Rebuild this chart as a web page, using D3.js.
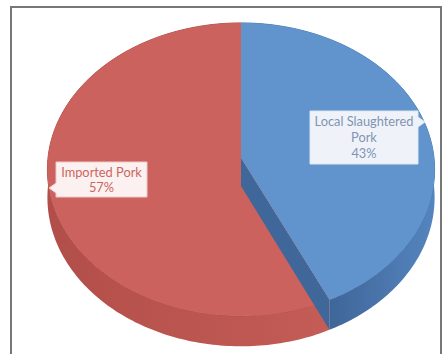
<!DOCTYPE html>
<html><head><meta charset="utf-8">
<script src="https://cdn.jsdelivr.net/npm/d3@7"></script>
<style>html,body{margin:0;padding:0;background:#fff;}svg{display:block;}</style>
</head><body>
<svg id="chart" width="442" height="354"></svg>
<script>
const categories = ["Local Slaughtered Pork", "Imported Pork"];
const values = [43, 57];
const labelLines = [["Local Slaughtered", "Pork", "43%"], ["Imported Pork", "57%"]];
const topColors = ["#6193CD", "#CC625D"];
const sideColorsA = ["#5585BF", "#B24E49"];
const sideColorsB = ["#3F6699", "#C45C57"];
const wallColor = "#40679A";

const svg = d3.select("#chart");

// frame
svg.append("rect").attr("x", 11).attr("y", 7).attr("width", 430).attr("height", 360)
  .attr("fill", "#fff").attr("stroke", "#777").attr("stroke-width", 2);

// perspective projection of the pie disk
const cx = 241, cy = 158, fx = 193, fy = 145.6, k = 0.078, thick = 28;
function proj(theta, r, bottom) {
  const X = r * Math.sin(theta), Z = r * Math.cos(theta);
  const w = 1 + k * Z;
  return [cx + fx * X / w, cy - fy * Z / w + (bottom ? thick / w : 0)];
}

const pie = d3.pie().sort(null).value(d => d)(values);
const line = d3.line();
const step = Math.PI / 180;
function arcPts(a0, a1, bottom) {
  const n = Math.max(2, Math.ceil((a1 - a0) / step));
  return d3.range(n + 1).map(i => proj(a0 + (a1 - a0) * i / n, 1, bottom));
}

const defs = svg.append("defs");
pie.forEach((p, i) => {
  const g = defs.append("linearGradient").attr("id", "side" + i)
    .attr("gradientUnits", "userSpaceOnUse")
    .attr("x1", i === 0 ? 330 : 47).attr("y1", 0).attr("x2", i === 0 ? 436 : 330).attr("y2", 0);
  g.append("stop").attr("offset", 0).attr("stop-color", i === 0 ? sideColorsB[i] : sideColorsA[i]);
  g.append("stop").attr("offset", 1).attr("stop-color", i === 0 ? sideColorsA[i] : sideColorsB[i]);
});

const gPie = svg.append("g");
// side walls
pie.forEach((p, i) => {
  const top = arcPts(p.startAngle, p.endAngle, false);
  const bot = arcPts(p.startAngle, p.endAngle, true).reverse();
  gPie.append("path").attr("d", line(top.concat(bot)) + "Z")
    .attr("fill", `url(#side${i})`);
});
// rim line (top edge over the side)
pie.forEach((p, i) => {
  gPie.append("path").attr("d", line(arcPts(p.startAngle, p.endAngle, false)))
    .attr("fill", "none").attr("stroke", i === 0 ? "#4C7DB5" : "#B0504B").attr("stroke-width", 1);
});
// top faces
pie.forEach((p, i) => {
  const pts = [proj(0, 0, false)].concat(arcPts(p.startAngle, p.endAngle, false));
  gPie.append("path").attr("d", line(pts) + "Z").attr("fill", topColors[i]);
});
// radial wall of first slice at its end angle
{
  const a = pie[0].endAngle;
  const pts = [proj(a, 0, false), proj(a, 1, false), proj(a, 1, true), proj(a, 0, true)];
  gPie.append("path").attr("d", line(pts) + "Z").attr("fill", wallColor);
}

// labels
const font = "Lato, 'Open Sans', sans-serif";
function callout(x, y, w, h, tipSide, tip, fill, stroke, lines, color, lh) {
  const g = svg.append("g");
  let d;
  if (tipSide === "right") {
    d = `M${x},${y}H${x + w}V${tip[1] - 5}L${tip[0]},${tip[1]}L${x + w},${tip[1] + 5}V${y + h}H${x}Z`;
  } else {
    d = `M${x},${y}H${x + w}V${y + h}H${x}V${tip[1] + 5}L${tip[0]},${tip[1]}L${x},${tip[1] - 5}Z`;
  }
  g.append("path").attr("d", d).attr("fill", fill).attr("stroke", stroke).attr("stroke-width", 1);
  const t = g.append("text").attr("font-family", font).attr("font-size", 12.8)
    .attr("fill", color).attr("text-anchor", "middle");
  lines.forEach((s, j) => {
    t.append("tspan").attr("x", x + w / 2).attr("y", y + 15 + j * lh).text(s);
  });
}
callout(310, 111, 108, 53, "right", [425, 122], "#EFF3F9", "#DCE5F1", labelLines[0], "#8193B2", 16);
callout(56, 162, 91, 35, "left", [49, 188], "#FBF1F0", "#EDC9C6", labelLines[1], "#CC6560", 15);
</script>
</body></html>
